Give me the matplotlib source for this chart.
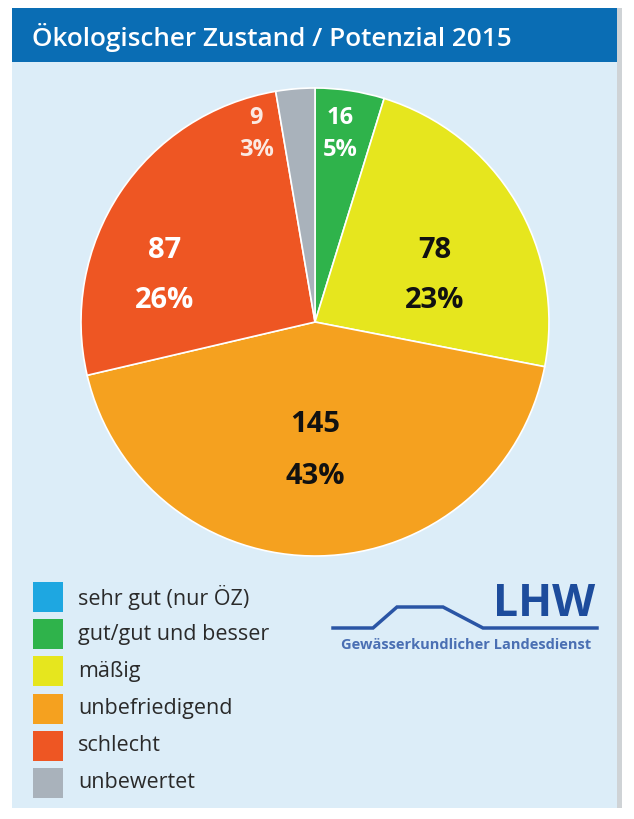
import matplotlib.pyplot as plt
from matplotlib.patches import Rectangle

plt.rcParams['font.family'] = ['Open Sans', 'DejaVu Sans']

# data
title = 'Ökologischer Zustand / Potenzial 2015'
categories = ['sehr gut (nur ÖZ)', 'gut/gut und besser', 'mäßig',
              'unbefriedigend', 'schlecht', 'unbewertet']
counts = [0, 16, 78, 145, 87, 9]
percents = [0, 5, 23, 43, 26, 3]
colors = ['#1ea7e1', '#2fb34b', '#e6e61e', '#f5a11f', '#ee5623', '#a9b2bb']
label_colors = ['white', 'white', '#111111', '#111111', 'white', '#fbe9e2']

W, H = 634, 819
fig = plt.figure(figsize=(W / 100, H / 100), dpi=100)
fig.patch.set_facecolor('white')

# background / panel axes in pixel coords
bg = fig.add_axes([0, 0, 1, 1])
bg.set_xlim(0, W)
bg.set_ylim(H, 0)
bg.axis('off')
bg.add_patch(Rectangle((12, 8), 605, 800, facecolor='#dcedf8', edgecolor='none'))
bg.add_patch(Rectangle((617, 8), 5, 800, facecolor='#cfd3d6', edgecolor='none'))
bg.add_patch(Rectangle((12, 8), 605, 54, facecolor='#0a6db4', edgecolor='none'))
bg.text(32, 37, title, color='white', fontsize=18.8, fontweight='semibold',
        va='center', ha='left')

# pie
cx, cy, r = 315, 322, 234
pie_ax = fig.add_axes([(cx - r) / W, (H - cy - r) / H, 2 * r / W, 2 * r / H])
vals = [c for c in counts if c > 0]
cols = [colors[i] for i, c in enumerate(counts) if c > 0]
pie_ax.pie(vals, colors=cols, startangle=90, counterclock=False, radius=1,
           wedgeprops=dict(edgecolor='white', linewidth=1.2))
pie_ax.set_xlim(-1, 1)
pie_ax.set_ylim(-1, 1)
pie_ax.set_aspect('equal')
pie_ax.axis('off')

# value labels (pixel positions of the two text lines)
label_pos = {1: (340, 118, 150, 17), 2: (435, 250, 300, 21),
             3: (315, 425, 476, 21), 4: (165, 250, 300, 21),
             5: (256, 118, 150, 17)}
for i, (x, y1, y2, fs) in label_pos.items():
    pie_ax.text(x, y1, str(counts[i]), transform=bg.transData, ha='center',
                va='center', fontsize=fs, fontweight='bold', color=label_colors[i])
    pie_ax.text(x, y2, f'{percents[i]}%', transform=bg.transData, ha='center',
                va='center', fontsize=fs, fontweight='bold', color=label_colors[i])

# legend
for k, (name, col) in enumerate(zip(categories, colors)):
    y = 597 + k * 37.2
    bg.add_patch(Rectangle((33, y - 15), 30, 30, facecolor=col, edgecolor='none'))
    bg.text(78, y, name, fontsize=15.5, color='#2a2a2a', va='center', ha='left')

# LHW logo
bg.plot([333, 373, 397, 443, 483, 597], [628, 628, 607, 607, 628, 628],
        color='#2a55a5', lw=2.5, solid_joinstyle='miter')
bg.text(595, 605, 'LHW', fontsize=32, fontweight='bold', color='#1d4c9c',
        ha='right', va='center')
bg.text(466, 645, 'Gewässerkundlicher Landesdienst', fontsize=10.5,
        fontweight='bold', color='#4a6fb3', ha='center', va='center')

fig.savefig('out.png', dpi=100)
